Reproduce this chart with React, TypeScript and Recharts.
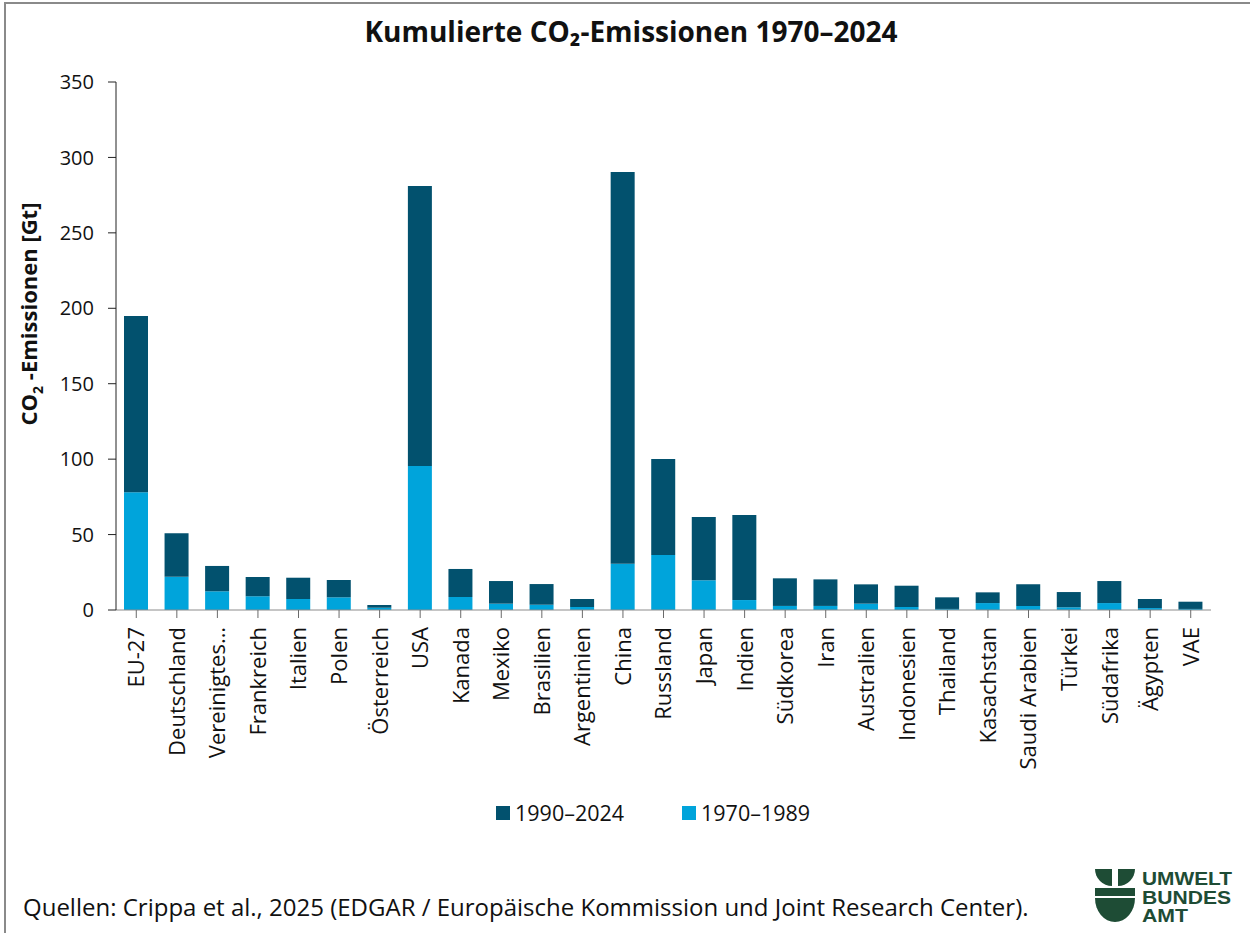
import React from 'react';
import { BarChart, Bar, XAxis, YAxis } from 'recharts';

const countries = [
  'EU-27', 'Deutschland', 'Vereinigtes Königreich', 'Frankreich', 'Italien', 'Polen', 'Österreich',
  'USA', 'Kanada', 'Mexiko', 'Brasilien', 'Argentinien', 'China', 'Russland', 'Japan', 'Indien',
  'Südkorea', 'Iran', 'Australien', 'Indonesien', 'Thailand', 'Kasachstan', 'Saudi Arabien',
  'Türkei', 'Südafrika', 'Ägypten', 'VAE',
];

// Gt CO2, 1970–1989
const early = [
  78, 22, 12.4, 9.1, 7.3, 8.4, 1.5, 95.4, 8.6, 4.2, 3.5, 2.0, 30.6, 36.5, 19.7, 6.6,
  2.7, 2.7, 4.2, 2.0, 0.7, 4.6, 2.7, 1.8, 4.6, 1.3, 0.7,
];

// Gt CO2, 1990–2024
const late = [
  116.9, 28.8, 16.8, 12.8, 14.1, 11.5, 1.8, 185.7, 18.6, 15.0, 13.7, 5.3, 259.7, 63.6, 41.9, 56.4,
  18.3, 17.6, 12.8, 14.1, 7.7, 7.1, 14.3, 10.1, 14.6, 6.0, 4.8,
];

const yTicks = [0, 50, 100, 150, 200, 250, 300, 350];

const seriesNames = { early: '1970–1989', late: '1990–2024' };
const colors = { early: '#00a4db', late: '#02516e' };

const data = countries.map((name, i) => ({ name, early: early[i], late: late[i] }));

const FONT = '"Open Sans", "Noto Sans", sans-serif';

const shortLabel = (s: string) => (s.length > 14 ? s.split(' ')[0] + '…' : s);

const XTick = (props: any) => {
  const { x, y, payload } = props;
  return (
    <g transform={`translate(${x},${y})`}>
      <text
        transform="rotate(-90)"
        x={-9}
        y={0}
        dy="0.36em"
        textAnchor="end"
        fontSize={22}
        fill="#111"
        fontFamily={FONT}
      >
        {shortLabel(payload.value)}
      </text>
    </g>
  );
};

const YLabel = () => (
  <text
    transform="translate(37,314) rotate(-90)"
    textAnchor="middle"
    fontSize={22}
    fontWeight={700}
    fill="#111"
    fontFamily={FONT}
  >
    CO<tspan fontSize={14} dy={6}>2</tspan>
    <tspan dy={-6}> -Emissionen [Gt]</tspan>
  </text>
);

const Logo = () => (
  <svg width={145} height={60} style={{ position: 'absolute', left: 1092, top: 865 }}>
    <g fill="#1e4c35">
      <path d="M3 4 L20 4 L20 21 A17 17 0 0 1 3 4 Z" />
      <path d="M26 4 L43 4 A17 17 0 0 1 26 21 Z" />
      <rect x={3} y={23} width={40} height={8} />
      <path d="M3 33 L43 33 A20 24 0 0 1 3 33 Z" />
      <g fontFamily='"Liberation Sans", Arial, sans-serif' fontWeight={700} fontSize={19}>
        <text x={50} y={20} textLength={90} lengthAdjust="spacingAndGlyphs">UMWELT</text>
        <text x={50} y={38.5} textLength={89} lengthAdjust="spacingAndGlyphs">BUNDES</text>
        <text x={50} y={57} textLength={46} lengthAdjust="spacingAndGlyphs">AMT</text>
      </g>
    </g>
  </svg>
);

const LegendBox = () => {
  const items = [
    { key: 'late', label: seriesNames.late, color: colors.late, left: 496 },
    { key: 'early', label: seriesNames.early, color: colors.early, left: 682 },
  ];
  return (
    <>
      {items.map((it) => (
        <div
          key={it.key}
          style={{
            position: 'absolute',
            left: it.left,
            top: 799,
            display: 'flex',
            alignItems: 'center',
            fontSize: 21.5,
            color: '#111',
            lineHeight: '28px',
          }}
        >
          <span style={{ width: 14, height: 14, background: it.color, marginRight: 5, display: 'inline-block' }} />
          {it.label}
        </div>
      ))}
    </>
  );
};

export default function App() {
  return (
    <div
      style={{
        position: 'absolute',
        left: 0,
        top: 0,
        width: 1250,
        height: 933,
        overflow: 'hidden',
        background: '#fff',
        fontFamily: FONT,
      }}
    >
      <div
        style={{
          position: 'absolute',
          left: 4,
          top: 2,
          width: 1300,
          height: 1000,
          border: '2px solid #8a8a8a',
          boxSizing: 'border-box',
        }}
      />
      <div
        style={{
          position: 'absolute',
          left: 0,
          width: 1262,
          top: 12,
          textAlign: 'center',
          fontSize: 28,
          fontWeight: 700,
          color: '#111',
          lineHeight: '38px',
        }}
      >
        Kumulierte CO₂-Emissionen 1970–2024
      </div>

      <div style={{ position: 'absolute', left: 0, top: 0 }}>
        <BarChart
          width={1250}
          height={790}
          data={data}
          margin={{ top: 82, right: 39, left: 0, bottom: 0 }}
          barSize={24}
        >
          <XAxis
            dataKey="name"
            interval={0}
            height={180}
            tickSize={8}
            tickMargin={0}
            tick={<XTick />}
            axisLine={{ stroke: '#8c8c8c' }}
            tickLine={{ stroke: '#6a6a6a' }}
          />
          <YAxis
            width={116}
            domain={[0, 350]}
            ticks={yTicks}
            interval={0}
            tickSize={8}
            tickMargin={14}
            tick={{ fontSize: 20, fill: '#111', fontFamily: FONT }}
            axisLine={{ stroke: '#222' }}
            tickLine={{ stroke: '#222' }}
            label={<YLabel />}
          />
          <Bar dataKey="early" stackId="a" fill={colors.early} name={seriesNames.early} isAnimationActive={false} />
          <Bar dataKey="late" stackId="a" fill={colors.late} name={seriesNames.late} isAnimationActive={false} />
        </BarChart>
      </div>

      <LegendBox />

      <div style={{ position: 'absolute', left: 23, top: 890, fontSize: 24, color: '#111', lineHeight: '34px' }}>
        Quellen: Crippa et al., 2025 (EDGAR / Europäische Kommission und Joint Research Center).
      </div>

      <Logo />
    </div>
  );
}
